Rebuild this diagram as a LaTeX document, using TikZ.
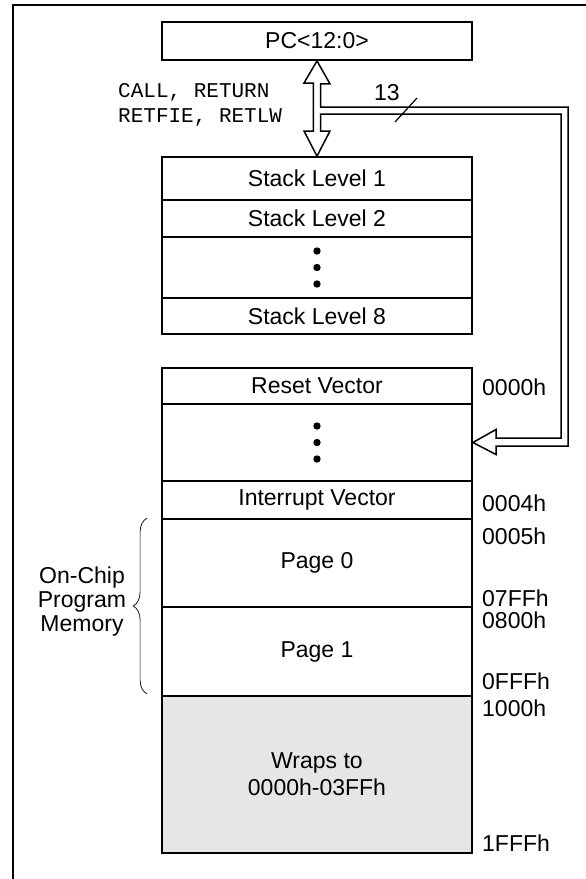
\documentclass[tikz,border=0pt]{standalone}
\usepackage{fontspec}
\setmainfont{Liberation Sans}
\newfontfamily\monofont{Liberation Mono}
\usetikzlibrary{calc,decorations.pathreplacing}
\definecolor{wrapgray}{HTML}{E6E6E6}

\begin{document}
\begin{tikzpicture}[x=1pt,y=-1pt,
		cell/.style={draw, line width=1.8pt, minimum width=310pt, inner sep=0pt, align=center, font=\fontsize{23}{27}\selectfont},
		addr/.style={anchor=west, inner sep=0pt, font=\fontsize{23}{27}\selectfont},
		bus/.style={draw, fill=white, line width=1.5pt, line join=miter}]
		\useasboundingbox (0,0) rectangle (586,879);
		% frame
		\draw[line width=2pt] (13,879) -- (13,5) -- (586,5);
		% stack
		\node[cell, minimum height=38pt] (pc) at (317,41) {PC<12:0>};
		\node[cell, minimum height=43pt] (lvl1) at (317,178.5) {Stack Level 1};
		\node[cell, minimum height=37pt] (lvl2) at (317,218.5) {Stack Level 2};
		\node[cell, minimum height=61pt] (dotsA) at (317,267.5) {};
		\node[cell, minimum height=36pt] (lvl8) at (317,316) {Stack Level 8};
		% memory
		\node[cell, minimum height=36pt] (reset) at (317,386) {Reset Vector};
		\node[cell, minimum height=77pt] (dotsB) at (317,442.5) {};
		\node[cell, minimum height=38pt] (intv) at (317,500) {Interrupt Vector};
		\node[cell, minimum height=88pt] (page0) at (317,563) {Page 0};
		\node[cell, minimum height=89pt] (page1) at (317,651.5) {Page 1};
		\node[cell, minimum height=157pt, fill=wrapgray] (wraps) at (317,774.5) {Wraps to\\0000h-03FFh};
		% dots
		\foreach \dy in {-16.5,0,16.5} {
			\fill ($(dotsA.center)+(0,\dy)$) circle (3.7pt);
			\fill ($(dotsB.center)+(0,\dy)$) circle (3.7pt);
		}
		% addresses
		\node[addr] (a0000) at (482,387) {0000h};
		\node[addr] (a0004) at (482,503) {0004h};
		\node[addr] (a0005) at (482,536) {0005h};
		\node[addr] (a07FF) at (482,598) {07FFh};
		\node[addr] (a0800) at (482,620) {0800h};
		\node[addr] (a0FFF) at (482,681) {0FFFh};
		\node[addr] (a1000) at (482,708) {1000h};
		\node[addr] (a1FFF) at (482,843) {1FFFh};
		% bus
		\draw[bus] (pc.south) -- ++(13,23) -- ++(-9.3,0) -- (320.7,107) -- (568,107)
			-- (568,446) -- (496,446) -- (496,454.5) -- (dotsB.east) -- (496,429.5)
			-- (496,438) -- (561,438) -- (561,114) -- (320.7,114) -- (320.7,131)
			-- (330,131) -- (lvl1.north) -- (304,131) -- (313.3,131) -- (313.3,83)
			-- (304,83) -- cycle;
		\draw[line width=1.2pt] (395,122) -- (417,98);
		% text
		\node[font=\fontsize{23}{27}\selectfont] (width) at (387,93) {13};
		\node[anchor=west, align=left, inner sep=0pt, font=\monofont\fontsize{21}{25}\selectfont] (instr) at (118,104.5) {CALL, RETURN\\RETFIE, RETLW};
		% brace
		\draw[line width=0.7pt, decorate, decoration={brace, amplitude=14pt}]
			($(page1.south west)+(-14,-3)$) -- ($(page0.north west)+(-14,0)$);
		\node[align=center, font=\fontsize{23}{24}\selectfont] (onchip) at (82,602) {On-Chip\\Program\\Memory};
	\end{tikzpicture}
\end{document}
